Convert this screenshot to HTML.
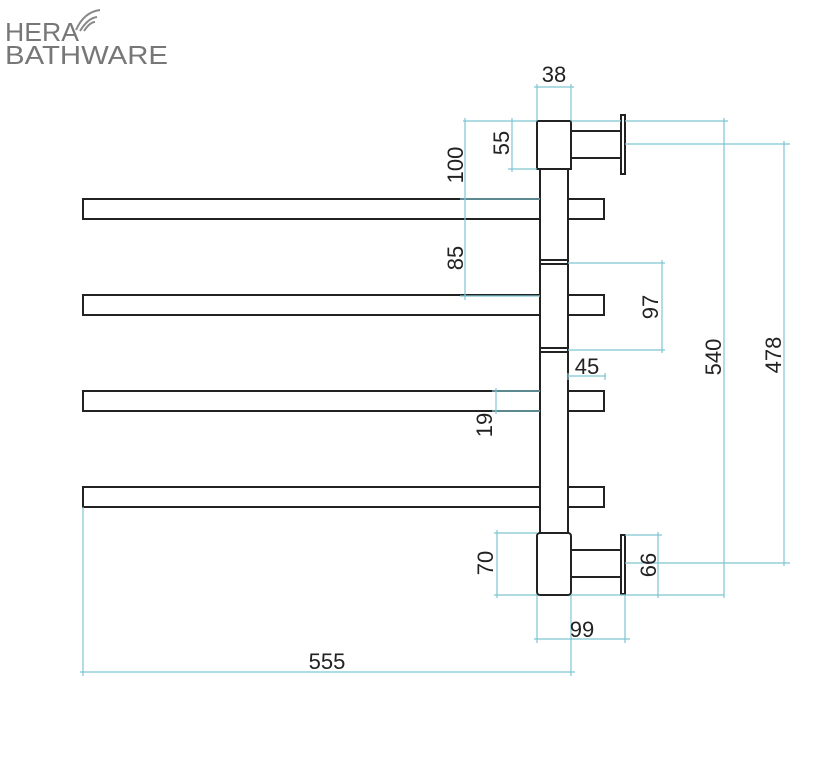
<!DOCTYPE html>
<html><head><style>body{margin:0;background:#fff}svg{display:block}</style></head><body>
<svg width="820" height="781" xmlns="http://www.w3.org/2000/svg" font-family="Liberation Sans, sans-serif">
<rect width="820" height="781" fill="#fff"/>
<text x="5" y="41" font-size="26" fill="#777" textLength="74" lengthAdjust="spacingAndGlyphs">HERA</text>
<text x="5" y="64" font-size="26" fill="#777" textLength="163" lengthAdjust="spacingAndGlyphs">BATHWARE</text>
<path d="M76 30 Q84 12 100 10 M80 31 Q88 18 97 17 M84 31 Q90 22 95 22" stroke="#888" stroke-width="2" fill="none"/>
<g stroke="#222" stroke-width="2" fill="#fff">
<rect x="83" y="199" width="521" height="20"/>
<rect x="83" y="295" width="521" height="20"/>
<rect x="83" y="391" width="521" height="20"/>
<rect x="83" y="487" width="521" height="20"/>
<rect x="540" y="168" width="28" height="367"/>
<path d="M540 260H568M540 264H568M540 348H568M540 352H568" fill="none"/>
<rect x="537" y="121" width="34" height="48"/>
<rect x="571" y="131" width="50" height="27"/>
<rect x="621" y="115" width="4" height="59"/>
<rect x="537" y="533" width="34" height="62" rx="3"/>
<rect x="571" y="550" width="50" height="27"/>
<rect x="621" y="535" width="4" height="59"/>
</g>
<g stroke="#7fc6d2" stroke-width="1.2" fill="none">
<path d="M537 84V121M571 84V121M534 87H574"/>
<path d="M463 121H537M571 121H621M625 121H728M465 118V300M460 199H540M460 296H540"/>
<path d="M512 118V172M508 169H537"/>
<path d="M568 263H665M568 350H665M662 260V353"/>
<path d="M724 118V598M625 144H790M784 141V566M625 563H790"/>
<path d="M568 376H606M568 373V380M605 373V380"/>
<path d="M492 391H540M492 411H540M496 388V414"/>
<path d="M494 533H537M494 595H537M571 595H724M497 530V598"/>
<path d="M625 535H662M658 532V598"/>
<path d="M537 595V643M625 595V643M534 639H630"/>
<path d="M83 507V676M571 595V676M80 672H575"/>
</g>
<g font-size="22" fill="#222" text-anchor="middle">
<text x="554" y="82">38</text>
<text x="587" y="374">45</text>
<text x="582" y="637">99</text>
<text x="327" y="669">555</text>
<text transform="translate(463,165) rotate(-90)">100</text>
<text transform="translate(509,143) rotate(-90)">55</text>
<text transform="translate(463,258) rotate(-90)">85</text>
<text transform="translate(658,307) rotate(-90)">97</text>
<text transform="translate(721,357) rotate(-90)">540</text>
<text transform="translate(781,355) rotate(-90)">478</text>
<text transform="translate(492,425) rotate(-90)">19</text>
<text transform="translate(493,563) rotate(-90)">70</text>
<text transform="translate(656,565) rotate(-90)">66</text>
</g>
</svg>
</body></html>
